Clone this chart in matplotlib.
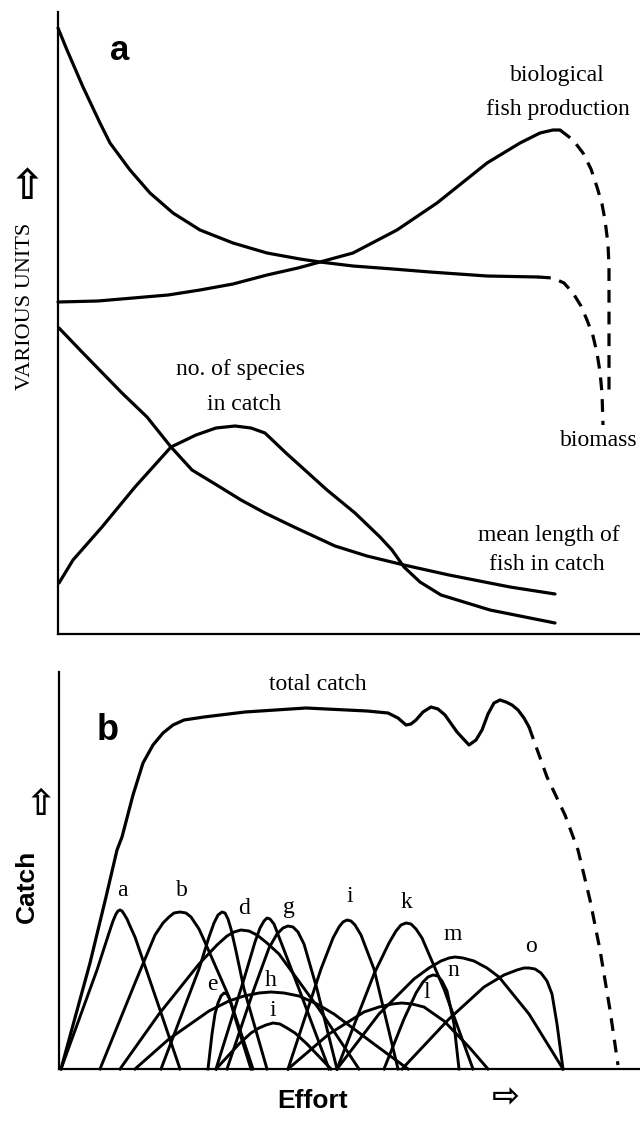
import matplotlib
matplotlib.use("Agg")
import matplotlib.pyplot as plt

# ---- panel a : curves (effort, value) ----
biomass_x = [0, 9, 25, 42, 52, 72, 92, 115, 142, 175, 209, 242, 262, 295, 335, 372, 429, 480]
biomass_y = [606, 584, 547, 511, 491, 464, 441, 421, 404, 391, 381, 375, 372, 368, 365, 362, 358, 357]
biomass_dash_x = [480, 495, 506, 515, 523, 529, 535, 539, 542, 544, 545]
biomass_dash_y = [357, 356, 351, 341, 328, 314, 298, 281, 262, 241, 209]

prod_x = [0, 40, 75, 110, 142, 175, 209, 240, 262, 295, 339, 379, 429, 462, 482, 495, 502]
prod_y = [332, 333, 336, 339, 344, 350, 359, 366, 372, 381, 404, 431, 471, 491, 501, 504, 504]
prod_dash_x = [502, 515, 525, 533, 539, 544, 547, 550, 551, 551, 551]
prod_dash_y = [504, 494, 481, 465, 447, 430, 414, 390, 367, 301, 237]

species_x = [1, 15, 44, 77, 113, 138, 158, 177, 193, 207, 228, 269, 297, 322, 334, 346,
             362, 383, 432, 497]
species_y = [51, 74, 107, 147, 187, 199, 206, 208, 206, 201, 181, 144, 121, 97, 84, 67,
             52, 39, 24, 11]

length_x = [1, 24, 64, 89, 113, 134, 162, 183, 207, 236, 277, 309, 346, 391, 452, 497]
length_y = [306, 282, 241, 217, 187, 164, 147, 134, 121, 107, 88, 78, 69, 59, 47, 40]

# ---- panel b : total catch and catch of single species ----
total_x = [2, 31, 47, 58, 63, 74, 84, 94, 104, 114, 125, 145, 186, 247, 308, 329, 339,
           347, 352, 357, 364, 372, 379, 386, 398, 410, 417, 423, 429, 435, 441,
           447, 453, 459, 465, 470]
total_y = [0, 106, 172, 219, 232, 274, 306, 324, 336, 344, 349, 352, 357, 361, 358, 356, 351,
           344, 345, 349, 357, 362, 360, 354, 337, 324, 329, 339, 355, 366, 369,
           367, 364, 359, 351, 342]
total_dash_x = [470, 488, 506, 519, 531, 541, 551, 559]
total_dash_y = [342, 292, 254, 219, 169, 119, 59, 4]

species_curves = {
    "a": ([2, 38, 50, 54, 57, 59, 61, 63, 65, 68, 71, 76, 100, 121],
          [0, 99, 136, 148, 155, 158, 159, 158, 155, 150, 143, 132, 62, 0]),
    "b": ([41, 76, 96, 104, 110, 115, 121, 127, 132, 136, 140, 145, 170, 194],
          [0, 86, 134, 146, 152, 156, 157, 156, 152, 146, 140, 129, 72, 0]),
    "c": ([102, 140, 150, 155, 159, 163, 166, 169, 172, 177, 185, 208],
          [0, 100, 132, 146, 154, 157, 156, 150, 140, 118, 80, 0]),
    "d": ([61, 100, 140, 158, 168, 175, 182, 190, 198, 208, 220, 260, 300],
          [0, 55, 105, 124, 133, 137, 139, 138, 134, 126, 115, 60, 0]),
    "e": ([149, 153, 156, 159, 162, 165, 168, 171, 175, 182, 192],
          [0, 35, 55, 66, 73, 76, 75, 69, 55, 32, 0]),
    "f": ([157, 185, 196, 201, 205, 208, 211, 215, 220, 240, 270],
          [0, 90, 127, 141, 148, 151, 150, 145, 132, 80, 0]),
    "g": ([168, 195, 210, 218, 224, 229, 234, 239, 245, 258, 278],
          [0, 80, 121, 135, 141, 143, 142, 137, 125, 80, 0]),
    "h": ([76, 110, 150, 170, 185, 200, 212, 225, 240, 258, 275, 315, 349],
          [0, 30, 58, 68, 73, 76, 77, 76, 73, 65, 55, 25, 0]),
    "i": ([229, 262, 274, 280, 284, 288, 292, 296, 302, 315, 339],
          [0, 100, 131, 142, 147, 149, 148, 144, 134, 100, 0]),
    "j": ([157, 180, 192, 200, 207, 214, 221, 228, 236, 248, 272],
          [0, 25, 36, 41, 44, 46, 45, 41, 36, 25, 0]),
    "k": ([278, 315, 330, 337, 342, 347, 352, 357, 363, 385, 414],
          [0, 95, 126, 138, 144, 146, 145, 140, 131, 80, 0]),
    "l": ([229, 270, 305, 320, 333, 343, 353, 365, 385, 410, 429],
          [0, 35, 57, 62, 65, 66, 65, 62, 48, 22, 0]),
    "m": ([278, 320, 355, 370, 382, 390, 396, 404, 415, 428, 440, 470, 504],
          [0, 55, 90, 101, 108, 111, 112, 111, 108, 101, 92, 55, 0]),
    "n": ([325, 345, 357, 364, 369, 374, 379, 383, 388, 395, 400],
          [0, 50, 76, 87, 92, 94, 93, 88, 78, 45, 0]),
    "o": ([343, 390, 425, 445, 458, 465, 470, 476, 482, 488, 493, 498, 504],
          [0, 50, 82, 94, 99, 101, 101, 100, 96, 88, 75, 45, 0]),
}

species_labels = ["a", "b", "d", "g", "i", "k", "m", "n", "o", "e", "h", "i", "l"]
label_x = [63, 123, 185, 230, 291, 347, 394, 394, 472, 153, 212, 214, 368]
label_y = [179, 179, 161, 162, 172, 167, 134, 99, 122, 84, 89, 59, 76]

W, H = 640, 1123
SERIF = "Liberation Serif"
LW = 2.3

fig = plt.figure(figsize=(W / 100, H / 100), dpi=100)


def frame(ax):
    for s in ["top", "right"]:
        ax.spines[s].set_visible(False)
    for s in ["left", "bottom"]:
        ax.spines[s].set_linewidth(1.6)
    ax.set_xticks([])
    ax.set_yticks([])
    ax.patch.set_alpha(0)


kw = dict(color="black", lw=LW, clip_on=False, solid_capstyle="round",
          solid_joinstyle="round")
dash = (0, (4, 2.8))

# panel a
ax = fig.add_axes([58 / W, 1 - 634 / H, 582 / W, 622 / H])
ax.set_xlim(0, 582)
ax.set_ylim(0, 622)
frame(ax)
ax.plot(biomass_x, biomass_y, **kw)
ax.plot(biomass_dash_x, biomass_dash_y, ls=dash, color="black", lw=LW, clip_on=False)
ax.plot(prod_x, prod_y, **kw)
ax.plot(prod_dash_x, prod_dash_y, ls=dash, color="black", lw=LW, clip_on=False)
ax.plot(species_x, species_y, **kw)
ax.plot(length_x, length_y, **kw)

tk = dict(family=SERIF, fontsize=17, ha="center", va="center")
ax.text(499, 559, "biological", **tk)
ax.text(500, 524, "fish production", **tk)
ax.text(541, 194, "biomass", **tk)
ax.text(183, 264, "no. of species", **tk)
ax.text(186, 229, "in catch", **tk)
ax.text(491, 99, "mean length of", **tk)
ax.text(489, 69, "fish in catch", **tk)
ax.text(62, 584, "a", fontsize=25, fontweight="bold", family="Liberation Sans",
        ha="center", va="center")

# panel b
bx = fig.add_axes([59 / W, 1 - 1069 / H, 581 / W, 397 / H])
bx.set_xlim(0, 581)
bx.set_ylim(0, 397)
frame(bx)
bx.plot(total_x, total_y, **kw)
bx.plot(total_dash_x, total_dash_y, ls=dash, color="black", lw=LW, clip_on=False)
for name, (xs, ys) in species_curves.items():
    bx.plot(xs, ys, color="black", lw=2.1, clip_on=False, solid_joinstyle="round")
for lab, x, y in zip(species_labels, label_x, label_y):
    bx.text(x, y, lab, family=SERIF, fontsize=17, ha="center", va="center")
bx.text(259, 384, "total catch", **tk)
bx.text(49, 339, "b", fontsize=26, fontweight="bold", family="Liberation Sans",
        ha="center", va="center")

# axis titles with outline arrows
fig.text(26 / W, 1 - 306 / H, "VARIOUS UNITS", rotation=90, family=SERIF,
         fontsize=16, ha="center", va="center")
fig.text(27 / W, 1 - 187 / H, "\u21e7", family="DejaVu Sans", fontweight="bold",
         fontsize=30, ha="center", va="center")
fig.text(27 / W, 1 - 886 / H, "Catch", rotation=90, family="Liberation Sans",
         fontweight="bold", fontsize=19, ha="center", va="center")
fig.text(41 / W, 1 - 805 / H, "\u21e7", family="DejaVu Sans", fontweight="bold",
         fontsize=26, ha="center", va="center")
fig.text(313 / W, 1 - 1101 / H, "Effort", family="Liberation Sans",
         fontweight="bold", fontsize=19, ha="center", va="center")
fig.text(506 / W, 1 - 1097 / H, "\u21e8", family="DejaVu Sans", fontweight="bold",
         fontsize=24, ha="center", va="center")

fig.savefig("out.png", dpi=100, facecolor="white")
